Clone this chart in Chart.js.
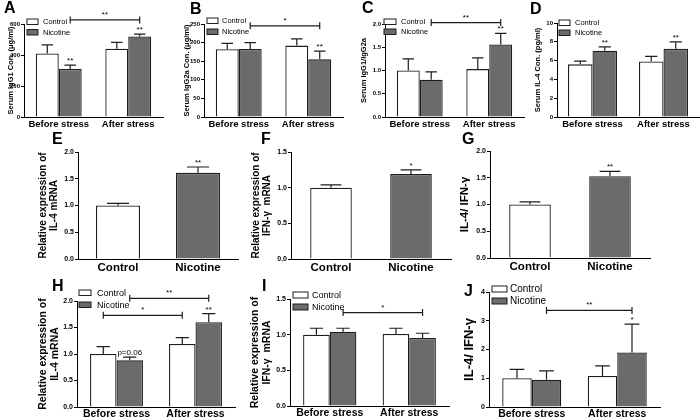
<!DOCTYPE html>
<html>
<head>
<meta charset="utf-8">
<script src="https://cdn.jsdelivr.net/npm/chart.js@4.4.1/dist/chart.umd.min.js"></script>
<style>
  html, body { margin: 0; padding: 0; background: #fff; }
  #fig { position: relative; width: 700px; height: 420px; overflow: hidden; }
  .panel { position: absolute; }
  .tag { position: absolute; font: bold 16px/16px 'Liberation Sans', Arial, sans-serif; color: #000; }
</style>
</head>
<body>
<div id="fig"></div>
<script>
// ---- data ----
const stressGroups = ['Before stress', 'After stress'];
const treatGroups = ['Control', 'Nicotine'];
const seriesNames = ['Control', 'Nicotine'];

// A: serum IgG1
const igg1Control = [410, 440];
const igg1ControlErr = [55, 42];
const igg1Nicotine = [310, 520];
const igg1NicotineErr = [25, 15];
const igg1Stars = ['**', '**'];
const igg1Ticks = [0, 200, 400, 600];

// B: serum IgG2a
const igg2aControl = [182, 192];
const igg2aControlErr = [16, 18];
const igg2aNicotine = [183, 155];
const igg2aNicotineErr = [17, 22];
const igg2aStars = ['', '**'];
const igg2aTicks = [0, 50, 100, 150, 200, 250];

// C: IgG1/IgG2a
const ratioControl = [1.0, 1.03];
const ratioControlErr = [0.25, 0.24];
const ratioNicotine = [0.8, 1.56];
const ratioNicotineErr = [0.17, 0.24];
const ratioStars = ['', '**'];
const ratioTicks = [0, 0.5, 1.0, 1.5, 2.0];

// D: serum IL-4
const il4Control = [5.6, 5.9];
const il4ControlErr = [0.35, 0.55];
const il4Nicotine = [7.05, 7.25];
const il4NicotineErr = [0.4, 0.75];
const il4Stars = ['**', '**'];
const il4Ticks = [0, 2, 4, 6, 8, 10];

// E-G: Control vs Nicotine
const il4mRNA = [1.0, 1.61];
const il4mRNAErr = [0.04, 0.11];
const il4mRNAStars = ['', '**'];
const il4mRNATicks = [0, 0.5, 1.0, 1.5, 2.0];

const ifnmRNA = [1.0, 1.19];
const ifnmRNAErr = [0.04, 0.06];
const ifnmRNAStars = ['', '*'];
const ifnmRNATicks = [0, 0.5, 1.0, 1.5];

const il4IfnRatio = [1.0, 1.53];
const il4IfnRatioErr = [0.05, 0.09];
const il4IfnRatioStars = ['', '**'];
const il4IfnRatioTicks = [0, 0.5, 1.0, 1.5, 2.0];

// H: IL-4 mRNA by stress
const hControl = [1.0, 1.19];
const hControlErr = [0.14, 0.12];
const hNicotine = [0.88, 1.6];
const hNicotineErr = [0.06, 0.16];
const hStars = ['p=0.06', '**'];
const hTicks = [0, 0.5, 1.0, 1.5, 2.0];

// I: IFN-γ mRNA by stress
const iControl = [1.0, 1.01];
const iControlErr = [0.09, 0.08];
const iNicotine = [1.04, 0.955];
const iNicotineErr = [0.05, 0.065];
const iTicks = [0, 0.5, 1.0, 1.5];

// J: IL-4/IFN-γ by stress
const jControl = [1.0, 1.08];
const jControlErr = [0.31, 0.35];
const jNicotine = [0.95, 1.9];
const jNicotineErr = [0.31, 0.98];
const jStars = ['', '*'];
const jTicks = [0, 1, 2, 3, 4];

// ---- drawing ----
const face = "'Liberation Sans', Arial, sans-serif";
const ink = '#1e1e1e';
const white = '#ffffff';
const grey = '#6b6b6b';
const fig = document.getElementById('fig');

function decoPlugin(p) {
    return {
        id: 'deco',
        afterDatasetsDraw(chart) {
            const ctx = chart.ctx;
            const y = chart.scales.y;
            ctx.save();
            ctx.strokeStyle = ink;
            ctx.fillStyle = '#000';
            ctx.lineWidth = 1.2;
            ctx.textAlign = 'center';
            ctx.textBaseline = 'alphabetic';
            chart.data.datasets.forEach((ds, i) => {
                chart.getDatasetMeta(i).data.forEach((bar, j) => {
                    const top = y.getPixelForValue(ds.data[j] + ds.errors[j]);
                    const half = bar.width / 4;
                    ctx.beginPath();
                    ctx.moveTo(bar.x, bar.y);
                    ctx.lineTo(bar.x, top);
                    ctx.moveTo(bar.x - half, top);
                    ctx.lineTo(bar.x + half, top);
                    ctx.stroke();
                    const s = ds.stars && ds.stars[j];
                    if (s) {
                        ctx.font = '8px ' + face;
                        ctx.fillText(s, bar.x, top - 2);
                    }
                });
            });
            (p.brackets || []).forEach(b => {
                const x1 = chart.getDatasetMeta(b.from[0]).data[b.from[1]].x;
                const x2 = chart.getDatasetMeta(b.to[0]).data[b.to[1]].x;
                const yy = y.getPixelForValue(b.level);
                ctx.beginPath();
                ctx.moveTo(x1, yy); ctx.lineTo(x2, yy);
                ctx.moveTo(x1, yy - 3.5); ctx.lineTo(x1, yy + 3.5);
                ctx.moveTo(x2, yy - 3.5); ctx.lineTo(x2, yy + 3.5);
                ctx.stroke();
                ctx.font = '8px ' + face;
                ctx.fillText(b.label, (x1 + x2) / 2, yy - 3);
            });
            if (p.legend) {
                const L = p.legend;
                const a = chart.chartArea;
                ctx.textAlign = 'left';
                ctx.textBaseline = 'middle';
                ctx.font = L.font + 'px ' + face;
                ctx.lineWidth = 1;
                chart.data.datasets.forEach((ds, i) => {
                    const bx = a.left + L.dx, by = a.top + L.dy + i * L.gap;
                    ctx.fillStyle = ds.backgroundColor;
                    ctx.fillRect(bx, by, L.w, L.h);
                    ctx.strokeRect(bx, by, L.w, L.h);
                    ctx.fillStyle = '#000';
                    ctx.fillText(ds.label, bx + L.w + L.textGap, by + L.h / 2 + 0.5);
                });
            }
            ctx.restore();
        }
    };
}

function makePanel(p) {
    const yW = 44, padTop = 34, padRight = 14, xH = 22;
    const left = p.axisX - yW, top = p.axisTop - padTop;
    const W = yW + p.plotW + padRight, H = padTop + p.plotH + xH;
    const box = document.createElement('div');
    box.className = 'panel';
    box.style.left = left + 'px';
    box.style.top = top + 'px';
    box.style.width = W + 'px';
    box.style.height = H + 'px';
    const canvas = document.createElement('canvas');
    canvas.width = W;
    canvas.height = H;
    box.appendChild(canvas);
    fig.appendChild(box);

    const tag = document.createElement('div');
    tag.className = 'tag';
    tag.textContent = p.tag[0];
    tag.style.left = p.tag[1] + 'px';
    tag.style.top = p.tag[2] + 'px';
    fig.appendChild(tag);

    const lh = 1.15;
    const titlePad = p.titleX - left - p.titleSize * lh / 2;
    const ticks = p.ticks;

    new Chart(canvas, {
        type: 'bar',
        data: {
            labels: p.labels,
            datasets: p.datasets.map(d => Object.assign({
                borderColor: ink,
                borderWidth: 1.3,
                barPercentage: 1,
                categoryPercentage: p.barPct
            }, d))
        },
        options: {
            responsive: false,
            animation: false,
            events: [],
            layout: { padding: { left: 0, top: padTop, right: padRight, bottom: 0 } },
            plugins: { legend: { display: false }, tooltip: { enabled: false } },
            scales: {
                x: {
                    offset: true,
                    grid: { display: false, drawTicks: false },
                    border: { color: '#000', width: 1 },
                    ticks: {
                        color: '#000', padding: p.xPad, maxRotation: 0, autoSkip: false,
                        font: { family: face, size: p.xFont, weight: 'bold', lineHeight: 1 }
                    },
                    afterFit: s => { s.height = xH; }
                },
                y: {
                    min: 0,
                    max: ticks[ticks.length - 1],
                    grid: { drawOnChartArea: false, drawTicks: true, tickLength: 3, color: '#000' },
                    border: { color: '#000', width: 1 },
                    ticks: {
                        color: '#000', padding: 1,
                        font: { family: face, size: p.tickFont, weight: 'bold' },
                        callback: v => Number(v).toFixed(p.decimals)
                    },
                    afterBuildTicks: s => { s.ticks = ticks.map(v => ({ value: v })); },
                    afterFit: s => { s.width = yW; },
                    title: {
                        display: true, text: p.yTitle, color: '#000',
                        font: { family: face, size: p.titleSize, weight: 'bold', lineHeight: lh },
                        padding: { top: titlePad, bottom: 0 }
                    }
                }
            }
        },
        plugins: [decoPlugin(p)]
    });
}

function pair(c, ce, n, ne, stars) {
    return [
        { label: seriesNames[0], data: c, errors: ce, stars: [], backgroundColor: white },
        { label: seriesNames[1], data: n, errors: ne, stars: stars || [], backgroundColor: grey }
    ];
}

function single(v, e, stars) {
    return [{ label: 'value', data: v, errors: e, stars: stars, backgroundColor: [white, grey] }];
}

const row1 = { plotH: 93, xFont: 9.5, xPad: 2.5, tickFont: 6, titleSize: 7.5, barPct: 0.66, labels: stressGroups };
const row2 = { plotH: 107, xFont: 11.5, xPad: 3, tickFont: 7, titleSize: 10, barPct: 0.52, labels: treatGroups, decimals: 1 };
const row3 = { plotH: 106, xFont: 10.5, xPad: 1.5, tickFont: 7, titleSize: 10.5, barPct: 0.67, labels: stressGroups };

makePanel(Object.assign({}, row1, {
    tag: ['A', 4, 0], axisX: 24, axisTop: 24, plotW: 139, titleX: 11, decimals: 0,
    yTitle: 'Serum IgG1 Con. (μg/ml)', ticks: igg1Ticks,
    datasets: pair(igg1Control, igg1ControlErr, igg1Nicotine, igg1NicotineErr, igg1Stars),
    brackets: [{ from: [1, 0], to: [1, 1], level: 626, label: '**' }],
    legend: { dx: 3, dy: -5, w: 11, h: 5.5, gap: 10.5, font: 7.5, textGap: 5 }
}));
makePanel(Object.assign({}, row1, {
    tag: ['B', 190, 1], axisX: 204, axisTop: 24, plotW: 139, titleX: 187, decimals: 0,
    yTitle: 'Serum IgG2a Con. (μg/ml)', ticks: igg2aTicks,
    datasets: pair(igg2aControl, igg2aControlErr, igg2aNicotine, igg2aNicotineErr, igg2aStars),
    brackets: [{ from: [1, 0], to: [1, 1], level: 245, label: '*' }],
    legend: { dx: 3, dy: -6, w: 11, h: 5.5, gap: 11, font: 7.5, textGap: 4 }
}));
makePanel(Object.assign({}, row1, {
    tag: ['C', 362, 0], axisX: 385, axisTop: 24, plotW: 139, titleX: 364, decimals: 1,
    yTitle: 'Serum IgG1/IgG2a', ticks: ratioTicks,
    datasets: pair(ratioControl, ratioControlErr, ratioNicotine, ratioNicotineErr, ratioStars),
    brackets: [{ from: [1, 0], to: [1, 1], level: 2.03, label: '**' }],
    legend: { dx: -1, dy: -5, w: 12, h: 5.5, gap: 10, font: 7.5, textGap: 5 }
}));
makePanel(Object.assign({}, row1, {
    tag: ['D', 530, 1], axisX: 557, axisTop: 23, plotW: 142, plotH: 94, titleX: 538, decimals: 0, barPct: 0.69,
    yTitle: 'Serum IL-4 Con. (pg/ml)', ticks: il4Ticks,
    datasets: pair(il4Control, il4ControlErr, il4Nicotine, il4NicotineErr, il4Stars),
    legend: { dx: 2, dy: -3, w: 11, h: 5.5, gap: 10, font: 7.5, textGap: 5 }
}));

makePanel(Object.assign({}, row2, {
    tag: ['E', 52, 131], axisX: 78, axisTop: 152, plotW: 160, titleX: 43, barPct: 0.55,
    yTitle: ['Relative expression of', 'IL-4 mRNA'], ticks: il4mRNATicks,
    datasets: single(il4mRNA, il4mRNAErr, il4mRNAStars)
}));
makePanel(Object.assign({}, row2, {
    tag: ['F', 261, 131], axisX: 291, axisTop: 152, plotW: 160, titleX: 256,
    yTitle: ['Relative expression of', 'IFN-γ  mRNA'], ticks: ifnmRNATicks,
    datasets: single(ifnmRNA, ifnmRNAErr, ifnmRNAStars)
}));
makePanel(Object.assign({}, row2, {
    tag: ['G', 462, 131], axisX: 490, axisTop: 151, plotW: 160, titleX: 465, titleSize: 11.5,
    yTitle: 'IL-4/ IFN-γ', ticks: il4IfnRatioTicks,
    datasets: single(il4IfnRatio, il4IfnRatioErr, il4IfnRatioStars)
}));

makePanel(Object.assign({}, row3, {
    tag: ['H', 52, 278], axisX: 77, axisTop: 301, plotW: 158, titleX: 43, decimals: 1,
    yTitle: ['Relative expression of', 'IL-4 mRNA'], ticks: hTicks,
    datasets: pair(hControl, hControlErr, hNicotine, hNicotineErr, hStars),
    brackets: [
        { from: [1, 0], to: [1, 1], level: 2.05, label: '**' },
        { from: [0, 0], to: [0, 1], level: 1.73, label: '*' }
    ],
    legend: { dx: 2, dy: -11, w: 12, h: 5.5, gap: 12, font: 9, textGap: 6 }
}));
makePanel(Object.assign({}, row3, {
    tag: ['I', 262, 278], axisX: 290, axisTop: 299, plotW: 159, plotH: 107.5, titleX: 255, decimals: 1,
    yTitle: ['Relative expression of', 'IFN-γ  mRNA'], ticks: iTicks,
    datasets: pair(iControl, iControlErr, iNicotine, iNicotineErr),
    brackets: [{ from: [1, 0], to: [1, 1], level: 1.31, label: '*' }],
    legend: { dx: 3, dy: -7, w: 15, h: 6, gap: 12, font: 9, textGap: 4 }
}));
makePanel(Object.assign({}, row3, {
    tag: ['J', 464, 283], axisX: 489, axisTop: 292, plotW: 171, plotH: 115, titleX: 469, titleSize: 13,
    decimals: 0, barPct: 0.69,
    yTitle: 'IL-4/ IFN-γ', ticks: jTicks,
    datasets: pair(jControl, jControlErr, jNicotine, jNicotineErr, jStars),
    brackets: [{ from: [1, 0], to: [1, 1], level: 3.36, label: '**' }],
    legend: { dx: 3, dy: -6, w: 15, h: 6, gap: 12, font: 10, textGap: 3 }
}));
</script>
</body>
</html>
